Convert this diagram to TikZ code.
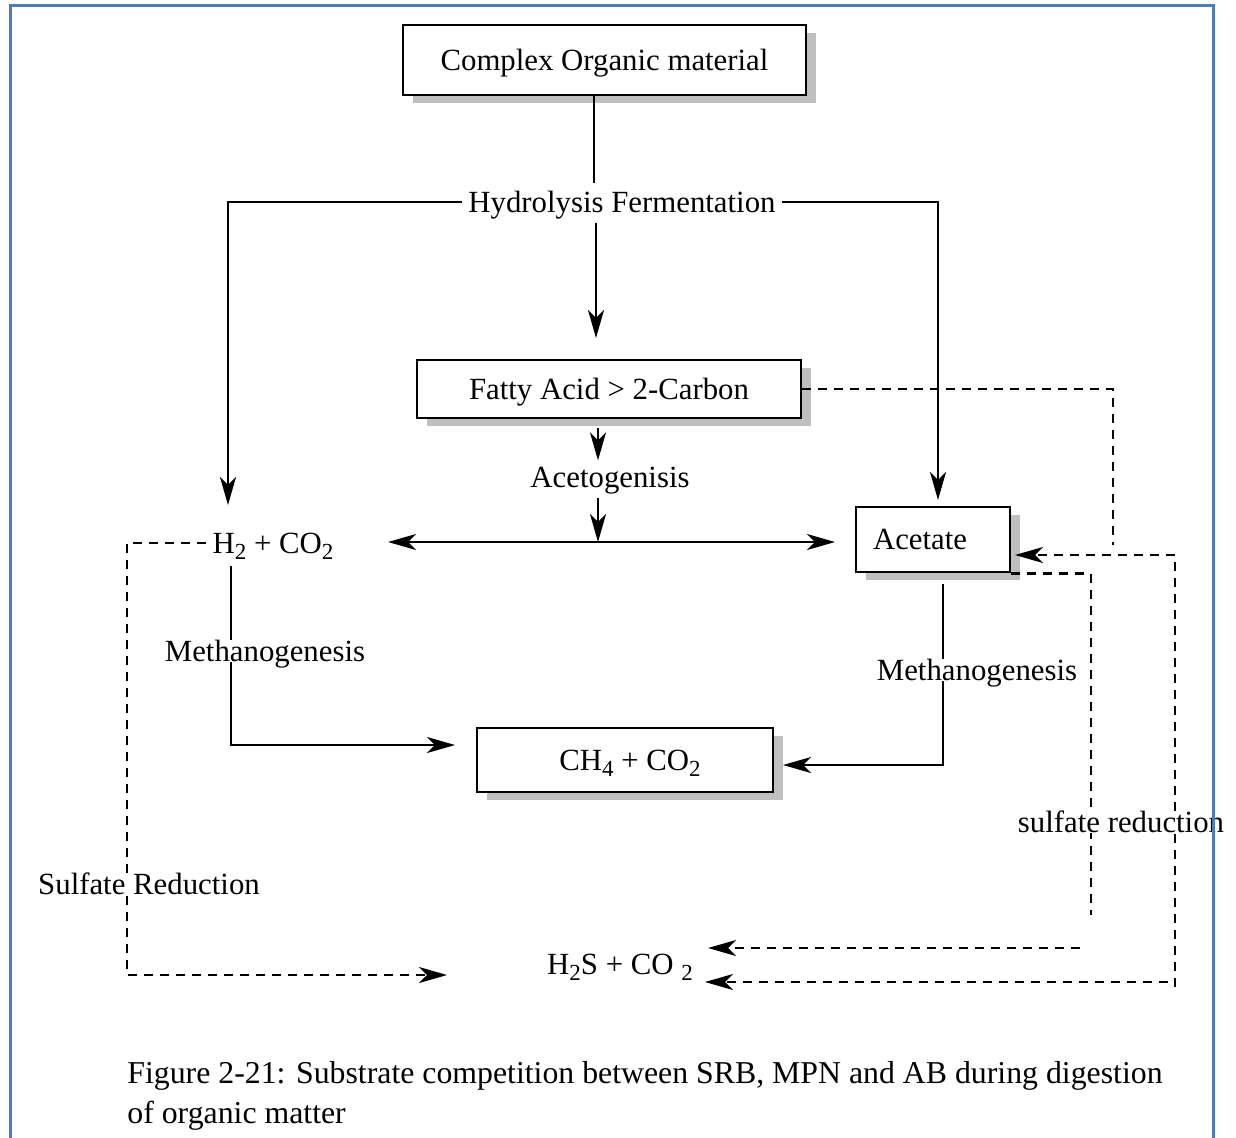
\documentclass[tikz,border=0pt]{standalone}
\usepackage{fontspec}
\setmainfont{Liberation Serif}
\usetikzlibrary{arrows.meta,shadows}
\definecolor{framecol}{RGB}{79,124,182}
\newcommand{\chsub}[1]{\raisebox{-0.45ex}{\fontsize{11.5}{12}\selectfont #1}}
\tikzset{
  >={Stealth[length=14pt,width=8pt,inset=4pt]},
  txt/.style={font=\fontsize{15.4}{20}\selectfont, inner sep=3pt, text depth=0pt},
  procbox/.style={txt, draw, line width=1.3pt, fill=white,
    drop shadow={shadow xshift=5pt, shadow yshift=-4pt, fill=black!25, opacity=1}},
  lbl/.style={txt, fill=white, inner xsep=1pt, inner ysep=0pt},
  flow/.style={line width=1.3pt},
  arr/.style={flow, ->},
  dline/.style={line width=1.25pt, dash pattern=on 4.5pt off 3.5pt}
}
\begin{document}
\begin{tikzpicture}[x=0.5pt,y=-0.5pt]
\useasboundingbox (0,0) rectangle (1236,1137);
% Drawing boxes and labels
\node[procbox, minimum width=201.5pt, minimum height=35pt] (complex) at (604.5,60) {Complex Organic material};
\node[txt] (hydro) at (622,202) {Hydrolysis Fermentation};
\node[procbox, minimum width=192pt, minimum height=29pt] (fatty) at (609,389) {Fatty Acid > 2-Carbon};
\node[txt] (aceto) at (610,477) {Acetogenisis};
\node[txt] (h2co2) at (273,543) {H\chsub{2} + CO\chsub{2}};
\node[procbox, minimum height=32.5pt, text width=60pt, inner xsep=8.5pt, align=left] (acetate) at (933,539.5) {Acetate};
\node[procbox, minimum width=148pt, minimum height=32pt] (ch4) at (625,760) {\hspace{5pt}CH\chsub{4} + CO\chsub{2}};
\node[txt] (h2s) at (620,964) {H\chsub{2}S + CO \chsub{2}};
% Free ends and corners
\coordinate (h2in) at (228,505);
\coordinate (acin) at (938,500);
\coordinate (fatin) at (596,338);
\coordinate (split) at (598,542);
\coordinate (spl) at (388,542);
\coordinate (spr) at (835,542);
\coordinate (lc) at (231,745);
\coordinate (ch4l) at (455,745);
\coordinate (rc) at (943,765);
\coordinate (ch4r) at (783,765);
\coordinate (fd) at (1113,545);
\coordinate (rb) at (1175,987);
\coordinate (acr) at (1015,555);
\coordinate (rb2) at (1168,982);
\coordinate (h2sr2) at (705,982);
\coordinate (ab) at (1091,915);
\coordinate (rb1) at (1080,948);
\coordinate (h2sr1) at (708,948);
\coordinate (lbc) at (127,975);
\coordinate (h2sl) at (447,975);
% Solid flow
\draw[flow] ([xshift=-5.25pt]complex.south) -- ++(0,87);
\draw[arr] (hydro.west) -| (h2in);
\draw[arr] (hydro.east) -| (acin);
\draw[arr] (fatin |- hydro.south) ++(0,4) -- (fatin);
\draw[arr] (split |- fatty.south) ++(0,9) -- (split |- aceto.north);
\draw[arr] (split |- aceto.south) ++(0,4) -- (split);
\draw[flow,<->] (spl) -- (spr);
\draw[arr] (lc |- h2co2.south) ++(0,6) -- (lc) -- (ch4l);
\draw[arr] (rc |- acetate.south) ++(0,11) -- (rc) -- (ch4r);
% Sulfate reduction paths
\draw[dline] (fatty.east) -| (fd);
\draw[dline,->] (rb) |- (acr);
\draw[dline,->] (rb2) -- (h2sr2);
\draw[dline] (acetate.south east) -| (ab);
\draw[dline,->] (rb1) -- (h2sr1);
\draw[dline,->] (h2co2.west) -| (lbc) -- (h2sl);
% Labels over the lines
\node[lbl] (meth1) at (265,651) {Methanogenesis};
\node[lbl] (meth2) at (977,670) {Methanogenesis};
\node[lbl] (sulfl) at (149,884) {Sulfate Reduction};
\node[lbl] (sulfr) at (1121,822) {sulfate reduction};
\node[txt, font=\fontsize{15.9}{20}\selectfont, anchor=north west, align=left] (caption) at (121,1055) {Figure 2-21: Substrate competition between SRB, MPN and AB during digestion\\of organic matter};
% Frame
\draw[framecol, line width=1.5pt] (10,1145) -- (10,5) -- (1213,5) -- (1213,1145);
\end{tikzpicture}
\end{document}
